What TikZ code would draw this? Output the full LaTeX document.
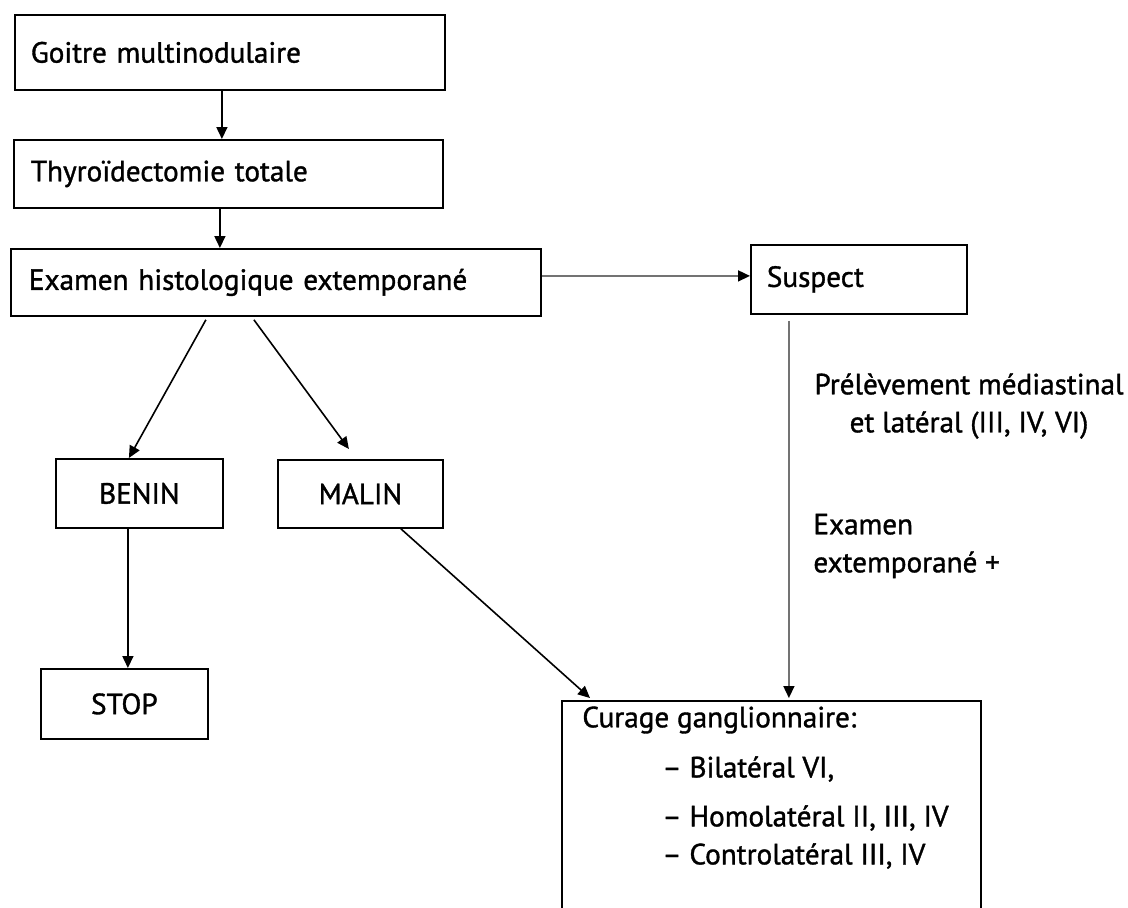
\documentclass[tikz,border=0pt]{standalone}
\usepackage{fontspec}
\setmainfont{PT Sans}
\newfontfamily\flowfam{PT Sans}[FakeBold=1.2]
\usetikzlibrary{arrows.meta}
\newcommand{\flowfont}{\flowfam\fontsize{14.6}{19}\selectfont}
\begin{document}
\begin{tikzpicture}[x=0.5pt,y=-0.5pt,
  every node/.style={font=\flowfont, text=black},
  lbox/.style={draw=black, line width=0.9pt, anchor=north west, inner ysep=0pt, align=left},
  cbox/.style={draw=black, line width=0.9pt, anchor=north west, inner sep=0pt, align=center},
  arr/.style={draw=black, line width=0.8pt, -{Triangle[length=6pt,width=5.5pt]}},
  garr/.style={draw=black!55, line width=0.8pt, -{Triangle[length=6pt,width=5.5pt,color=black]}},
  lbl/.style={inner sep=0pt}
]
\useasboundingbox (0,0) rectangle (1128,907);
\fill[white] (0,0) rectangle (1128,907);
\clip (0,0) rectangle (1128,907);

% main column
\node[lbox, minimum width=215pt, minimum height=37.5pt, inner xsep=8pt, text width=199pt]
  (goitre) at (14,14) {Goitre multinodulaire};
\node[lbox, minimum width=214.5pt, minimum height=34pt, inner xsep=8.5pt, text width=197.5pt]
  (thyro) at (13,139) {Thyroïdectomie totale};
\node[lbox, minimum width=265pt, minimum height=33.5pt, inner xsep=9pt, text width=247pt]
  (exam) at (10,248) {Examen histologique extemporané};
\node[lbox, minimum width=108pt, minimum height=34.5pt, inner xsep=8pt, text width=92pt]
  (suspect) at (750,244) {Suspect};

% outcomes
\node[cbox, minimum width=83.5pt, minimum height=34.5pt] (benin) at (55,458) {BENIN};
\node[cbox, minimum width=82.5pt, minimum height=34pt] (malin) at (277,459) {MALIN};
\node[cbox, minimum width=83.5pt, minimum height=35pt] (stop) at (40,668) {STOP};
\node[cbox, minimum width=209.5pt, minimum height=120pt] (curage) at (561,700) {};

% contents of the lymph node dissection box
\node[lbl, anchor=west] (cg0) at (582,720) {Curage ganglionnaire:};
\node[lbl, anchor=west] (cg1) at (662,769) {– Bilatéral VI,};
\node[lbl, anchor=west] (cg2) at (662,818) {– Homolatéral II, III, IV};
\node[lbl, anchor=west] (cg3) at (662,856) {– Controlatéral III, IV};

% side labels along the suspect branch
\node[lbl, align=center] (prelev) at (969,406) {Prélèvement médiastinal\\et latéral (III, IV, VI)};
\node[lbl, align=left, anchor=west] (extemp) at (813,546) {Examen\\extemporané +};

% connectors
\draw[arr] ([xshift=-4pt]goitre.south) -- ([xshift=-3.25pt]thyro.north);
\draw[arr] ([xshift=-4.25pt]thyro.south) -- ([xshift=-28pt]exam.north);
\draw[garr] ([yshift=3.25pt]exam.east) -- ([yshift=1.75pt]suspect.west);
\draw[arr] ([xshift=-35pt,yshift=-1.5pt]exam.south) -- ([xshift=-5.25pt]benin.north);
\draw[arr] ([xshift=-11pt,yshift=-1.5pt]exam.south) -- ([xshift=-5.75pt,yshift=5pt]malin.north);
\draw[arr] ([xshift=-5.75pt]benin.south) -- ([xshift=-5.75pt]benin.south |- stop.north);
\draw[arr] ([xshift=20.25pt]malin.south) -- ([xshift=14.5pt,yshift=1pt]curage.north west);
\coordinate (susfoot) at ([xshift=-35pt,yshift=-3pt]suspect.south);
\draw[garr] (susfoot) -- ([yshift=1pt]susfoot |- curage.north);
\end{tikzpicture}
\end{document}
